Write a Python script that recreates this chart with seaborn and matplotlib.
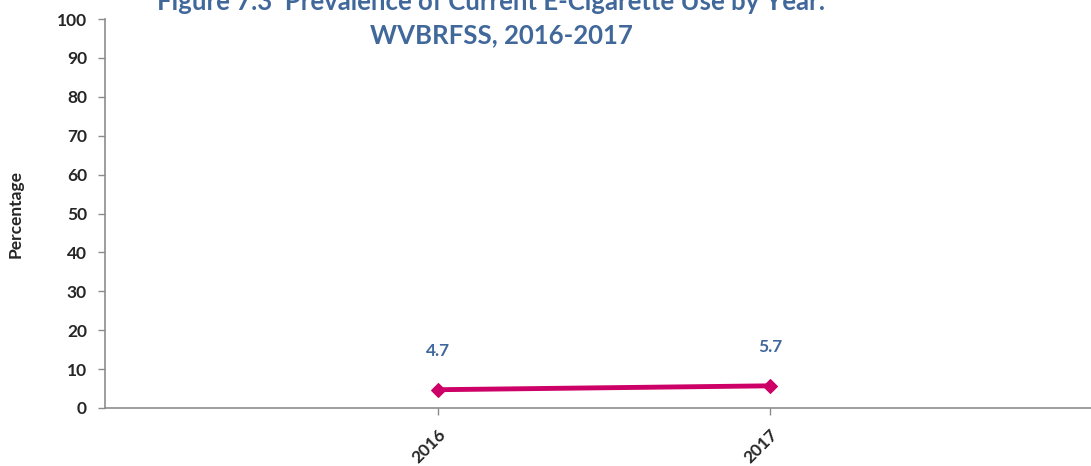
import numpy as np
import pandas as pd
import matplotlib
matplotlib.use('Agg')
import matplotlib.pyplot as plt
import seaborn as sns

# dados do gráfico
anos = ['2016', '2017']
prevalencia = [4.7, 5.7]
titulo_1 = 'Figure 7.3  Prevalence of Current E-Cigarette Use by Year:'
titulo_2 = 'WVBRFSS, 2016-2017'

sns.set_style('white')
plt.rcParams['font.family'] = ['Lato', 'DejaVu Sans']

df = pd.DataFrame({'pos': np.arange(len(anos)), 'valor': prevalencia})

fig = plt.figure(figsize=(10.91, 4.66), dpi=100)
ax = fig.add_axes([105 / 1091, 58 / 466, 986 / 1091, 389 / 466])

cor_linha = '#CC0066'
cor_texto = '#41689B'

sns.lineplot(data=df, x='pos', y='valor', ax=ax, color=cor_linha,
             linewidth=3.5, marker='D', markersize=7,
             markeredgecolor=cor_linha, markerfacecolor=cor_linha)

for x, v in zip(df['pos'], df['valor']):
    ax.annotate(f'{v:.1f}', (x, v), xytext=(0, 22), textcoords='offset points',
                ha='center', va='bottom', color=cor_texto, fontsize=12.5,
                fontweight='bold')

ax.set_ylim(0, 100)
ax.set_yticks(range(0, 101, 10))
ax.set_xlim(-1.003, 1.967)
ax.set_xticks(df['pos'])
ax.set_xticklabels(anos, rotation=45, ha='right', rotation_mode='anchor',
                   fontweight='bold', fontsize=12.5)
for lbl in ax.get_yticklabels():
    lbl.set_fontweight('bold')
    lbl.set_fontsize(12.5)

ax.set_xlabel('')
ax.set_ylabel('Percentage', fontweight='bold', fontsize=12.5, labelpad=24)

for s in ['top', 'right']:
    ax.spines[s].set_visible(False)
for s in ['left', 'bottom']:
    ax.spines[s].set_color('#8C8C8C')
    ax.spines[s].set_linewidth(1.2)

ax.tick_params(axis='y', which='major', direction='out', length=5,
               width=1, color='#8C8C8C', left=True, pad=8)
ax.tick_params(axis='x', which='major', direction='out', length=5,
               width=1, color='#8C8C8C', bottom=True, pad=8)

fig.text(0.45, 0.995, titulo_1, ha='center', va='center', color=cor_texto,
         fontsize=18.5, fontweight='bold')
fig.text(0.46, 0.925, titulo_2, ha='center', va='center', color=cor_texto,
         fontsize=18.5, fontweight='bold')

fig.savefig('out.png', dpi=100)
